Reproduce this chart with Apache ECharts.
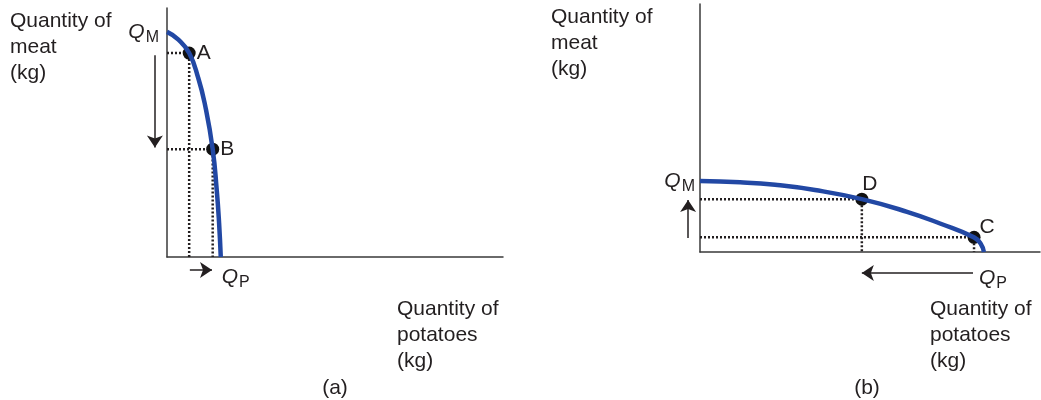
<!DOCTYPE html>
<html>
<head>
<meta charset="utf-8">
<script src="https://cdn.jsdelivr.net/npm/echarts@6/dist/echarts.min.js"></script>
<style>
html, body { margin: 0; padding: 0; background: #fff; }
#main { width: 1041px; height: 400px; }
</style>
</head>
<body>
<div id="main"></div>
<script>
// panel (a): frontier (0-100 scale on both axes)
var potatoA = [0, 3.4, 6.6, 9.3, 11.3, 13.6, 14.8, 15.5, 16.0];
var meatA = [90.4, 87.3, 81.9, 71.9, 61.2, 43.3, 26.9, 13.7, 0];
var pointNamesA = ['A', 'B'];
var pointPotatoA = [6.6, 13.6];
var pointMeatA = [81.9, 43.3];

// panel (b)
var potatoB = [0, 11.8, 22.1, 33.8, 47.6, 60.9, 70.6, 80.6, 82.6, 83.5];
var meatB = [28.6, 28.1, 27.1, 25.0, 21.3, 16.2, 11.5, 5.9, 3.2, 0];
var pointNamesB = ['D', 'C'];
var pointPotatoB = [47.6, 80.6];
var pointMeatB = [21.3, 5.9];

// movement arrows next to the axes
var arrowsA = [[[-3.6, 81], [-3.6, 44]], [[6.8, -5.2], [13.4, -5.2]]];
var arrowsB = [[[-3.5, 5.6], [-3.5, 21]], [[80.3, -8.5], [47.6, -8.5]]];

var FONT = '"Liberation Sans", Arial, Helvetica, sans-serif';
var INK = '#231f20';
var BLUE = '#2248a4';

var myChart = echarts.init(document.getElementById('main'));

function zip(xs, ys) {
    return xs.map(function (x, i) { return [x, ys[i]]; });
}

function guides(xs, ys) {
    return xs.map(function (x, i) {
        return { coords: [[0, ys[i]], [x, ys[i]], [x, 0]] };
    });
}

function axisPair(idx) {
    return {
        gridIndex: idx,
        type: 'value',
        min: 0,
        max: 100,
        axisLine: { show: true, onZero: false, lineStyle: { color: '#3a3a3a', width: 1.5 } },
        axisTick: { show: false },
        axisLabel: { show: false },
        splitLine: { show: false }
    };
}

var qLabel = {
    q: { fontFamily: FONT, fontSize: 21, fontStyle: 'italic', color: INK },
    s: { fontFamily: FONT, fontSize: 16, color: INK, padding: [12, 0, 0, 1] }
};

function panelSeries(idx, px, py, names, ptx, pty, arrows, qm, qp) {
    return [
        {
            type: 'lines',
            coordinateSystem: 'cartesian2d',
            xAxisIndex: idx, yAxisIndex: idx,
            polyline: true,
            silent: true,
            lineStyle: { color: INK, width: 2.5, type: [2, 2], opacity: 1 },
            data: guides(ptx, pty)
        },
        {
            type: 'line',
            xAxisIndex: idx, yAxisIndex: idx,
            data: zip(px, py),
            smooth: 0.5,
            showSymbol: false,
            clip: false,
            lineStyle: { color: BLUE, width: 4.5 }
        },
        {
            type: 'scatter',
            xAxisIndex: idx, yAxisIndex: idx,
            symbolSize: 13,
            clip: false,
            itemStyle: { color: '#111', opacity: 1 },
            data: names.map(function (n, i) {
                return { name: n, value: [ptx[i], pty[i]] };
            }),
            label: {
                show: true,
                formatter: '{b}',
                fontFamily: FONT,
                fontSize: 21,
                color: INK,
                opacity: 1
            }
        },
        {
            type: 'lines',
            coordinateSystem: 'cartesian2d',
            xAxisIndex: idx, yAxisIndex: idx,
            clip: false,
            silent: true,
            symbol: ['none', 'arrow'],
            symbolSize: 12,
            lineStyle: { color: INK, width: 1.5, opacity: 1 },
            data: arrows.map(function (a) { return { coords: a }; })
        },
        {
            type: 'scatter',
            xAxisIndex: idx, yAxisIndex: idx,
            symbolSize: 0,
            clip: false,
            silent: true,
            itemStyle: { opacity: 1 },
            data: [
                { value: [px[0], py[0]], label: qm },
                { value: [px[px.length - 1], py[py.length - 1]], label: qp }
            ]
        }
    ];
}

var seriesA = panelSeries(0, potatoA, meatA, pointNamesA, pointPotatoA, pointMeatA, arrowsA,
    { show: true, position: 'left', distance: 8, formatter: '{q|Q}{s|M}', rich: qLabel, opacity: 1 },
    { show: true, position: [1, 6], align: 'left', verticalAlign: 'top', formatter: '{q|Q}{s|P}', rich: qLabel, opacity: 1 });
seriesA[2].label.position = 'right';
seriesA[2].label.distance = 1;

var seriesB = panelSeries(1, potatoB, meatB, pointNamesB, pointPotatoB, pointMeatB, arrowsB,
    { show: true, position: 'left', distance: 5, formatter: '{q|Q}{s|M}', rich: qLabel, opacity: 1 },
    { show: true, position: [-5, 12], align: 'left', verticalAlign: 'top', formatter: '{q|Q}{s|P}', rich: qLabel, opacity: 1 });
seriesB[2].data[0].label = { position: 'top', distance: 0, offset: [8, 2] };
seriesB[2].data[1].label = { position: 'right', distance: 0, offset: [-1, -10] };

function textBlock(x, y, txt, align) {
    return {
        type: 'text',
        x: x,
        y: y,
        style: {
            text: txt,
            fontFamily: FONT,
            fontSize: 21,
            lineHeight: 26,
            fill: INK,
            align: align || 'left',
            verticalAlign: 'top'
        }
    };
}

var option = {
    animation: false,
    backgroundColor: '#fff',
    grid: [
        { left: 167, top: 8, width: 336, height: 249 },
        { left: 700, top: 4, width: 340, height: 248 }
    ],
    xAxis: [axisPair(0), axisPair(1)],
    yAxis: [axisPair(0), axisPair(1)],
    graphic: [
        textBlock(10, 8, 'Quantity of\nmeat\n(kg)'),
        textBlock(551, 4, 'Quantity of\nmeat\n(kg)'),
        textBlock(397, 296, 'Quantity of\npotatoes\n(kg)'),
        textBlock(930, 296, 'Quantity of\npotatoes\n(kg)'),
        textBlock(335, 375, '(a)', 'center'),
        textBlock(867, 375, '(b)', 'center')
    ],
    series: seriesA.concat(seriesB)
};

myChart.setOption(option);

window.onresize = function () {
    myChart.resize();
};
</script>
</body>
</html>
